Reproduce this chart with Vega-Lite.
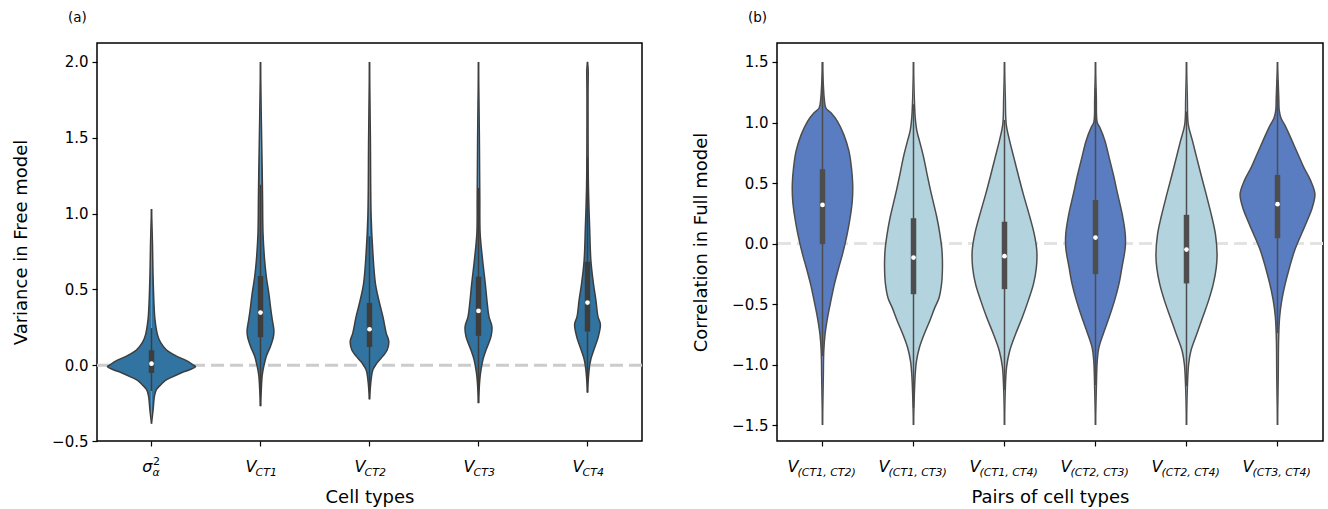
{
  "$schema": "https://vega.github.io/schema/vega-lite/v6.json",
  "background": "white",
  "padding": {"left": 11, "top": 9, "right": 5, "bottom": 5},
  "spacing": 135,
  "bounds": "flush",
  "config": {
    "font": "DejaVu Sans",
    "view": {"stroke": "black", "strokeWidth": 1.5},
    "axis": {"grid": false, "domain": false, "tickColor": "black", "tickWidth": 1.2, "tickSize": 5, "labelFontSize": 15, "labelColor": "black", "labelFont": "DejaVu Sans", "titleFont": "DejaVu Sans", "titleFontSize": 18, "titleFontWeight": "normal", "titleColor": "black", "labelPadding": 4},
    "title": {"font": "DejaVu Sans", "fontWeight": "normal", "color": "black"}
  },
  "datasets": {
    "violA": [
      {"c":"sigma","v":1.03,"w":0},{"c":"sigma","v":0.8,"w":0.009},{"c":"sigma","v":0.6,"w":0.014},{"c":"sigma","v":0.4,"w":0.023},{"c":"sigma","v":0.3,"w":0.032},{"c":"sigma","v":0.2,"w":0.055},{"c":"sigma","v":0.15,"w":0.083},{"c":"sigma","v":0.1,"w":0.138},{"c":"sigma","v":0.06,"w":0.229},{"c":"sigma","v":0.03,"w":0.321},{"c":"sigma","v":0.0,"w":0.385},{"c":"sigma","v":-0.01,"w":0.404},{"c":"sigma","v":-0.03,"w":0.349},{"c":"sigma","v":-0.05,"w":0.275},{"c":"sigma","v":-0.08,"w":0.183},{"c":"sigma","v":-0.1,"w":0.128},{"c":"sigma","v":-0.13,"w":0.083},{"c":"sigma","v":-0.16,"w":0.046},{"c":"sigma","v":-0.2,"w":0.028},{"c":"sigma","v":-0.3,"w":0.014},{"c":"sigma","v":-0.385,"w":0},
      {"c":"CT1","v":2.0,"w":0},{"c":"CT1","v":1.6,"w":0.008},{"c":"CT1","v":1.31,"w":0.015},{"c":"CT1","v":1.1,"w":0.019},{"c":"CT1","v":0.87,"w":0.023},{"c":"CT1","v":0.69,"w":0.038},{"c":"CT1","v":0.58,"w":0.054},{"c":"CT1","v":0.47,"w":0.077},{"c":"CT1","v":0.36,"w":0.096},{"c":"CT1","v":0.3,"w":0.108},{"c":"CT1","v":0.23,"w":0.123},{"c":"CT1","v":0.19,"w":0.119},{"c":"CT1","v":0.125,"w":0.092},{"c":"CT1","v":0.06,"w":0.054},{"c":"CT1","v":-0.005,"w":0.031},{"c":"CT1","v":-0.07,"w":0.015},{"c":"CT1","v":-0.15,"w":0.008},{"c":"CT1","v":-0.27,"w":0},
      {"c":"CT2","v":2.0,"w":0},{"c":"CT2","v":1.5,"w":0.008},{"c":"CT2","v":0.98,"w":0.015},{"c":"CT2","v":0.74,"w":0.031},{"c":"CT2","v":0.54,"w":0.054},{"c":"CT2","v":0.43,"w":0.085},{"c":"CT2","v":0.32,"w":0.123},{"c":"CT2","v":0.21,"w":0.154},{"c":"CT2","v":0.157,"w":0.177},{"c":"CT2","v":0.1,"w":0.162},{"c":"CT2","v":0.06,"w":0.123},{"c":"CT2","v":0.015,"w":0.069},{"c":"CT2","v":-0.03,"w":0.031},{"c":"CT2","v":-0.095,"w":0.015},{"c":"CT2","v":-0.225,"w":0},
      {"c":"CT3","v":2.0,"w":0},{"c":"CT3","v":1.5,"w":0.008},{"c":"CT3","v":1.1,"w":0.012},{"c":"CT3","v":0.87,"w":0.015},{"c":"CT3","v":0.69,"w":0.038},{"c":"CT3","v":0.54,"w":0.062},{"c":"CT3","v":0.43,"w":0.077},{"c":"CT3","v":0.32,"w":0.096},{"c":"CT3","v":0.255,"w":0.123},{"c":"CT3","v":0.19,"w":0.115},{"c":"CT3","v":0.1,"w":0.069},{"c":"CT3","v":0.04,"w":0.042},{"c":"CT3","v":-0.03,"w":0.023},{"c":"CT3","v":-0.095,"w":0.012},{"c":"CT3","v":-0.25,"w":0},
      {"c":"CT4","v":2.0,"w":0},{"c":"CT4","v":1.95,"w":0.006},{"c":"CT4","v":1.8,"w":0.005},{"c":"CT4","v":1.2,"w":0.008},{"c":"CT4","v":0.9,"w":0.02},{"c":"CT4","v":0.69,"w":0.031},{"c":"CT4","v":0.54,"w":0.054},{"c":"CT4","v":0.43,"w":0.077},{"c":"CT4","v":0.32,"w":0.096},{"c":"CT4","v":0.27,"w":0.118},{"c":"CT4","v":0.19,"w":0.1},{"c":"CT4","v":0.1,"w":0.058},{"c":"CT4","v":0.04,"w":0.031},{"c":"CT4","v":-0.03,"w":0.015},{"c":"CT4","v":-0.18,"w":0}
    ],
    "boxA": [
      {"c":"sigma","lo":-0.17,"q1":-0.051,"med":0.01,"q3":0.098,"hi":0.245},
      {"c":"CT1","lo":-0.27,"q1":0.185,"med":0.347,"q3":0.588,"hi":1.19},
      {"c":"CT2","lo":-0.225,"q1":0.12,"med":0.237,"q3":0.41,"hi":0.85},
      {"c":"CT3","lo":-0.25,"q1":0.194,"med":0.358,"q3":0.584,"hi":1.17},
      {"c":"CT4","lo":-0.18,"q1":0.222,"med":0.413,"q3":0.682,"hi":1.37}
    ],
    "labA": [
      {"c":"sigma","main":"σ","sub":"α","sup":"2"},
      {"c":"CT1","main":"V","sub":"CT1"},
      {"c":"CT2","main":"V","sub":"CT2"},
      {"c":"CT3","main":"V","sub":"CT3"},
      {"c":"CT4","main":"V","sub":"CT4"}
    ],
    "violB": [
      {"c":"V12","v":1.5,"w":0},{"c":"V12","v":1.2,"w":0.019},{"c":"V12","v":1.12,"w":0.037},{"c":"V12","v":1.08,"w":0.093},{"c":"V12","v":1.01,"w":0.164},{"c":"V12","v":0.9,"w":0.234},{"c":"V12","v":0.765,"w":0.29},{"c":"V12","v":0.627,"w":0.318},{"c":"V12","v":0.49,"w":0.332},{"c":"V12","v":0.35,"w":0.327},{"c":"V12","v":0.215,"w":0.304},{"c":"V12","v":0.077,"w":0.271},{"c":"V12","v":-0.088,"w":0.22},{"c":"V12","v":-0.2,"w":0.178},{"c":"V12","v":-0.336,"w":0.131},{"c":"V12","v":-0.47,"w":0.093},{"c":"V12","v":-0.61,"w":0.056},{"c":"V12","v":-0.75,"w":0.028},{"c":"V12","v":-0.89,"w":0.014},{"c":"V12","v":-1.1,"w":0.009},{"c":"V12","v":-1.5,"w":0},
      {"c":"V13","v":1.5,"w":0},{"c":"V13","v":1.2,"w":0.009},{"c":"V13","v":1.04,"w":0.019},{"c":"V13","v":0.93,"w":0.037},{"c":"V13","v":0.85,"w":0.065},{"c":"V13","v":0.71,"w":0.112},{"c":"V13","v":0.57,"w":0.15},{"c":"V13","v":0.41,"w":0.196},{"c":"V13","v":0.215,"w":0.257},{"c":"V13","v":0.077,"w":0.29},{"c":"V13","v":-0.06,"w":0.313},{"c":"V13","v":-0.2,"w":0.318},{"c":"V13","v":-0.336,"w":0.308},{"c":"V13","v":-0.45,"w":0.28},{"c":"V13","v":-0.53,"w":0.234},{"c":"V13","v":-0.64,"w":0.178},{"c":"V13","v":-0.75,"w":0.117},{"c":"V13","v":-0.86,"w":0.065},{"c":"V13","v":-0.97,"w":0.033},{"c":"V13","v":-1.08,"w":0.019},{"c":"V13","v":-1.25,"w":0.009},{"c":"V13","v":-1.5,"w":0},
      {"c":"V14","v":1.5,"w":0},{"c":"V14","v":1.2,"w":0.009},{"c":"V14","v":0.985,"w":0.019},{"c":"V14","v":0.85,"w":0.056},{"c":"V14","v":0.71,"w":0.103},{"c":"V14","v":0.57,"w":0.15},{"c":"V14","v":0.41,"w":0.206},{"c":"V14","v":0.215,"w":0.28},{"c":"V14","v":0.077,"w":0.327},{"c":"V14","v":-0.06,"w":0.355},{"c":"V14","v":-0.2,"w":0.35},{"c":"V14","v":-0.336,"w":0.318},{"c":"V14","v":-0.47,"w":0.262},{"c":"V14","v":-0.61,"w":0.196},{"c":"V14","v":-0.75,"w":0.121},{"c":"V14","v":-0.89,"w":0.056},{"c":"V14","v":-1.02,"w":0.023},{"c":"V14","v":-1.2,"w":0.009},{"c":"V14","v":-1.5,"w":0},
      {"c":"V23","v":1.5,"w":0},{"c":"V23","v":1.2,"w":0.009},{"c":"V23","v":1.0,"w":0.019},{"c":"V23","v":0.96,"w":0.047},{"c":"V23","v":0.85,"w":0.103},{"c":"V23","v":0.71,"w":0.15},{"c":"V23","v":0.57,"w":0.196},{"c":"V23","v":0.41,"w":0.243},{"c":"V23","v":0.24,"w":0.294},{"c":"V23","v":0.077,"w":0.327},{"c":"V23","v":-0.033,"w":0.327},{"c":"V23","v":-0.2,"w":0.29},{"c":"V23","v":-0.336,"w":0.257},{"c":"V23","v":-0.47,"w":0.21},{"c":"V23","v":-0.61,"w":0.15},{"c":"V23","v":-0.75,"w":0.084},{"c":"V23","v":-0.86,"w":0.037},{"c":"V23","v":-0.97,"w":0.019},{"c":"V23","v":-1.2,"w":0.009},{"c":"V23","v":-1.5,"w":0},
      {"c":"V24","v":1.5,"w":0},{"c":"V24","v":1.2,"w":0.009},{"c":"V24","v":0.985,"w":0.019},{"c":"V24","v":0.85,"w":0.065},{"c":"V24","v":0.71,"w":0.112},{"c":"V24","v":0.57,"w":0.159},{"c":"V24","v":0.41,"w":0.215},{"c":"V24","v":0.215,"w":0.28},{"c":"V24","v":0.077,"w":0.318},{"c":"V24","v":-0.088,"w":0.336},{"c":"V24","v":-0.2,"w":0.327},{"c":"V24","v":-0.336,"w":0.294},{"c":"V24","v":-0.47,"w":0.243},{"c":"V24","v":-0.61,"w":0.178},{"c":"V24","v":-0.75,"w":0.112},{"c":"V24","v":-0.89,"w":0.047},{"c":"V24","v":-1.0,"w":0.023},{"c":"V24","v":-1.2,"w":0.009},{"c":"V24","v":-1.5,"w":0},
      {"c":"V34","v":1.5,"w":0},{"c":"V34","v":1.2,"w":0.014},{"c":"V34","v":1.1,"w":0.019},{"c":"V34","v":1.04,"w":0.037},{"c":"V34","v":0.96,"w":0.093},{"c":"V34","v":0.85,"w":0.159},{"c":"V34","v":0.74,"w":0.224},{"c":"V34","v":0.627,"w":0.29},{"c":"V34","v":0.52,"w":0.364},{"c":"V34","v":0.41,"w":0.411},{"c":"V34","v":0.3,"w":0.383},{"c":"V34","v":0.19,"w":0.327},{"c":"V34","v":0.077,"w":0.262},{"c":"V34","v":-0.06,"w":0.187},{"c":"V34","v":-0.2,"w":0.131},{"c":"V34","v":-0.336,"w":0.084},{"c":"V34","v":-0.47,"w":0.047},{"c":"V34","v":-0.61,"w":0.023},{"c":"V34","v":-0.8,"w":0.012},{"c":"V34","v":-1.1,"w":0.008},{"c":"V34","v":-1.5,"w":0}
    ],
    "boxB": [
      {"c":"V12","lo":-0.93,"q1":-0.005,"med":0.319,"q3":0.614,"hi":1.5},
      {"c":"V13","lo":-1.36,"q1":-0.419,"med":-0.116,"q3":0.209,"hi":1.15},
      {"c":"V14","lo":-1.21,"q1":-0.377,"med":-0.105,"q3":0.18,"hi":1.02},
      {"c":"V23","lo":-1.17,"q1":-0.253,"med":0.049,"q3":0.36,"hi":1.28},
      {"c":"V24","lo":-1.18,"q1":-0.33,"med":-0.05,"q3":0.237,"hi":1.09},
      {"c":"V34","lo":-0.74,"q1":0.044,"med":0.325,"q3":0.567,"hi":1.35}
    ],
    "labB": [
      {"c":"V12","main":"V","sub":"(CT1, CT2)"},
      {"c":"V13","main":"V","sub":"(CT1, CT3)"},
      {"c":"V14","main":"V","sub":"(CT1, CT4)"},
      {"c":"V23","main":"V","sub":"(CT2, CT3)"},
      {"c":"V24","main":"V","sub":"(CT2, CT4)"},
      {"c":"V34","main":"V","sub":"(CT3, CT4)"}
    ]
  },
  "hconcat": [
    {
      "width": 545,
      "height": 398,
      "title": {"text": "(a)", "anchor": "start", "frame": "group", "dx": -29, "fontSize": 13.5, "offset": 19},
      "resolve": {"scale": {"xOffset": "independent"}},
      "layer": [
        {
          "data": {"values": [{"ref": 0}]},
          "mark": {"type": "rule", "color": "#cccccc", "strokeWidth": 3, "strokeDash": [13, 6]},
          "encoding": {"y": {"field": "ref", "type": "quantitative", "scale": {"domain": [-0.5, 2.125], "nice": false, "zero": false}, "axis": {"title": "Variance in Free model", "values": [-0.5, 0, 0.5, 1, 1.5, 2], "format": ".1f", "titlePadding": 21}}}
        },
        {
          "data": {"name": "violA"},
          "mark": {"type": "line", "fill": "#3274a1", "stroke": "#3d3d3d", "strokeWidth": 1.5, "interpolate": "catmull-rom"},
          "encoding": {
            "x": {"field": "c", "type": "nominal", "scale": {"domain": ["sigma", "CT1", "CT2", "CT3", "CT4"], "paddingInner": 0, "paddingOuter": 0}, "axis": {"labels": false, "title": "Cell types", "titlePadding": 42}},
            "xOffset": {"field": "w", "type": "quantitative", "scale": {"domain": [-0.5, 0.5]}},
            "y": {"field": "v", "type": "quantitative", "axis": {"title": "Variance in Free model", "values": [-0.5, 0, 0.5, 1, 1.5, 2], "format": ".1f", "titlePadding": 21}},
            "order": {"field": "v", "sort": "descending"},
            "detail": {"field": "c"}
          }
        },
        {
          "data": {"name": "violA"},
          "mark": {"type": "line", "fill": "#3274a1", "stroke": "#3d3d3d", "strokeWidth": 1.5, "interpolate": "catmull-rom"},
          "encoding": {
            "x": {"field": "c", "type": "nominal", "axis": {"labels": false, "title": "Cell types", "titlePadding": 42}},
            "xOffset": {"field": "w", "type": "quantitative", "scale": {"domain": [-0.5, 0.5], "reverse": true}},
            "y": {"field": "v", "type": "quantitative", "axis": {"title": "Variance in Free model", "values": [-0.5, 0, 0.5, 1, 1.5, 2], "format": ".1f", "titlePadding": 21}},
            "order": {"field": "v", "sort": "descending"},
            "detail": {"field": "c"}
          }
        },
        {
          "data": {"name": "boxA"},
          "mark": {"type": "rule", "color": "#3d3d3d", "strokeWidth": 1.5},
          "encoding": {"x": {"field": "c", "type": "nominal", "axis": {"labels": false, "title": "Cell types", "titlePadding": 42}}, "y": {"field": "lo", "type": "quantitative", "axis": {"title": "Variance in Free model", "values": [-0.5, 0, 0.5, 1, 1.5, 2], "format": ".1f", "titlePadding": 21}}, "y2": {"field": "hi"}}
        },
        {
          "data": {"name": "boxA"},
          "mark": {"type": "rule", "color": "#3d3d3d", "strokeWidth": 5.5},
          "encoding": {"x": {"field": "c", "type": "nominal", "axis": {"labels": false, "title": "Cell types", "titlePadding": 42}}, "y": {"field": "q1", "type": "quantitative", "axis": {"title": "Variance in Free model", "values": [-0.5, 0, 0.5, 1, 1.5, 2], "format": ".1f", "titlePadding": 21}}, "y2": {"field": "q3"}}
        },
        {
          "data": {"name": "boxA"},
          "mark": {"type": "point", "filled": true, "color": "white", "opacity": 1, "size": 22},
          "encoding": {"x": {"field": "c", "type": "nominal", "axis": {"labels": false, "title": "Cell types", "titlePadding": 42}}, "y": {"field": "med", "type": "quantitative", "axis": {"title": "Variance in Free model", "values": [-0.5, 0, 0.5, 1, 1.5, 2], "format": ".1f", "titlePadding": 21}}}
        },
        {
          "data": {"name": "labA"},
          "transform": [{"filter": "datum.c != 'sigma'"}],
          "mark": {"type": "text", "align": "right", "baseline": "alphabetic", "dx": -4, "dy": 31, "fontSize": 16, "fontStyle": "italic", "color": "black"},
          "encoding": {"x": {"field": "c", "type": "nominal", "axis": {"labels": false, "title": "Cell types", "titlePadding": 42}}, "y": {"datum": -0.5, "type": "quantitative", "axis": {"title": "Variance in Free model", "values": [-0.5, 0, 0.5, 1, 1.5, 2], "format": ".1f", "titlePadding": 21}}, "text": {"field": "main"}}
        },
        {
          "data": {"name": "labA"},
          "transform": [{"filter": "datum.c != 'sigma'"}],
          "mark": {"type": "text", "align": "left", "baseline": "alphabetic", "dx": -5, "dy": 35, "fontSize": 11, "fontStyle": "italic", "color": "black"},
          "encoding": {"x": {"field": "c", "type": "nominal", "axis": {"labels": false, "title": "Cell types", "titlePadding": 42}}, "y": {"datum": -0.5, "type": "quantitative", "axis": {"title": "Variance in Free model", "values": [-0.5, 0, 0.5, 1, 1.5, 2], "format": ".1f", "titlePadding": 21}}, "text": {"field": "sub"}}
        },
        {
          "data": {"name": "labA"},
          "transform": [{"filter": "datum.c == 'sigma'"}],
          "mark": {"type": "text", "align": "right", "baseline": "alphabetic", "dx": 1, "dy": 31, "fontSize": 16, "fontStyle": "italic", "color": "black"},
          "encoding": {"x": {"field": "c", "type": "nominal", "axis": {"labels": false, "title": "Cell types", "titlePadding": 42}}, "y": {"datum": -0.5, "type": "quantitative", "axis": {"title": "Variance in Free model", "values": [-0.5, 0, 0.5, 1, 1.5, 2], "format": ".1f", "titlePadding": 21}}, "text": {"field": "main"}}
        },
        {
          "data": {"name": "labA"},
          "transform": [{"filter": "datum.c == 'sigma'"}],
          "mark": {"type": "text", "align": "left", "baseline": "alphabetic", "dx": 1.5, "dy": 24, "fontSize": 11, "color": "black"},
          "encoding": {"x": {"field": "c", "type": "nominal", "axis": {"labels": false, "title": "Cell types", "titlePadding": 42}}, "y": {"datum": -0.5, "type": "quantitative", "axis": {"title": "Variance in Free model", "values": [-0.5, 0, 0.5, 1, 1.5, 2], "format": ".1f", "titlePadding": 21}}, "text": {"field": "sup"}}
        },
        {
          "data": {"name": "labA"},
          "transform": [{"filter": "datum.c == 'sigma'"}],
          "mark": {"type": "text", "align": "left", "baseline": "alphabetic", "dx": 1, "dy": 35, "fontSize": 11, "fontStyle": "italic", "color": "black"},
          "encoding": {"x": {"field": "c", "type": "nominal", "axis": {"labels": false, "title": "Cell types", "titlePadding": 42}}, "y": {"datum": -0.5, "type": "quantitative", "axis": {"title": "Variance in Free model", "values": [-0.5, 0, 0.5, 1, 1.5, 2], "format": ".1f", "titlePadding": 21}}, "text": {"field": "sub"}}
        }
      ]
    },
    {
      "width": 546,
      "height": 398,
      "title": {"text": "(b)", "anchor": "start", "frame": "group", "dx": -29, "fontSize": 13.5, "offset": 19},
      "resolve": {"scale": {"xOffset": "independent"}},
      "layer": [
        {
          "data": {"values": [{"ref": 0}]},
          "mark": {"type": "rule", "color": "#e3e3e3", "strokeWidth": 3, "strokeDash": [13, 6]},
          "encoding": {"y": {"field": "ref", "type": "quantitative", "scale": {"domain": [-1.632, 1.657], "nice": false, "zero": false}, "axis": {"title": "Correlation in Full model", "values": [-1.5, -1, -0.5, 0, 0.5, 1, 1.5], "format": ".1f", "titlePadding": 21}}}
        },
        {
          "data": {"name": "violB"},
          "mark": {"type": "line", "stroke": "#4d4d4d", "strokeWidth": 1.5, "interpolate": "catmull-rom"},
          "encoding": {
            "x": {"field": "c", "type": "nominal", "scale": {"domain": ["V12", "V13", "V14", "V23", "V24", "V34"], "paddingInner": 0, "paddingOuter": 0}, "axis": {"labels": false, "title": "Pairs of cell types", "titlePadding": 42}},
            "xOffset": {"field": "w", "type": "quantitative", "scale": {"domain": [-0.5, 0.5]}},
            "y": {"field": "v", "type": "quantitative", "axis": {"title": "Correlation in Full model", "values": [-1.5, -1, -0.5, 0, 0.5, 1, 1.5], "format": ".1f", "titlePadding": 21}},
            "fill": {"field": "c", "type": "nominal", "scale": {"domain": ["V12", "V13", "V14", "V23", "V24", "V34"], "range": ["#5a7dc2", "#b3d4df", "#b3d4df", "#5a7dc2", "#b3d4df", "#5a7dc2"]}, "legend": null},
            "order": {"field": "v", "sort": "descending"},
            "detail": {"field": "c"}
          }
        },
        {
          "data": {"name": "violB"},
          "mark": {"type": "line", "stroke": "#4d4d4d", "strokeWidth": 1.5, "interpolate": "catmull-rom"},
          "encoding": {
            "x": {"field": "c", "type": "nominal", "axis": {"labels": false, "title": "Pairs of cell types", "titlePadding": 42}},
            "xOffset": {"field": "w", "type": "quantitative", "scale": {"domain": [-0.5, 0.5], "reverse": true}},
            "y": {"field": "v", "type": "quantitative", "axis": {"title": "Correlation in Full model", "values": [-1.5, -1, -0.5, 0, 0.5, 1, 1.5], "format": ".1f", "titlePadding": 21}},
            "fill": {"field": "c", "type": "nominal", "legend": null},
            "order": {"field": "v", "sort": "descending"},
            "detail": {"field": "c"}
          }
        },
        {
          "data": {"name": "boxB"},
          "mark": {"type": "rule", "color": "#4d4d4d", "strokeWidth": 1.5},
          "encoding": {"x": {"field": "c", "type": "nominal", "axis": {"labels": false, "title": "Pairs of cell types", "titlePadding": 42}}, "y": {"field": "lo", "type": "quantitative", "axis": {"title": "Correlation in Full model", "values": [-1.5, -1, -0.5, 0, 0.5, 1, 1.5], "format": ".1f", "titlePadding": 21}}, "y2": {"field": "hi"}}
        },
        {
          "data": {"name": "boxB"},
          "mark": {"type": "rule", "color": "#4d4d4d", "strokeWidth": 5.5},
          "encoding": {"x": {"field": "c", "type": "nominal", "axis": {"labels": false, "title": "Pairs of cell types", "titlePadding": 42}}, "y": {"field": "q1", "type": "quantitative", "axis": {"title": "Correlation in Full model", "values": [-1.5, -1, -0.5, 0, 0.5, 1, 1.5], "format": ".1f", "titlePadding": 21}}, "y2": {"field": "q3"}}
        },
        {
          "data": {"name": "boxB"},
          "mark": {"type": "point", "filled": true, "color": "white", "opacity": 1, "size": 22},
          "encoding": {"x": {"field": "c", "type": "nominal", "axis": {"labels": false, "title": "Pairs of cell types", "titlePadding": 42}}, "y": {"field": "med", "type": "quantitative", "axis": {"title": "Correlation in Full model", "values": [-1.5, -1, -0.5, 0, 0.5, 1, 1.5], "format": ".1f", "titlePadding": 21}}}
        },
        {
          "data": {"name": "labB"},
          "mark": {"type": "text", "align": "right", "baseline": "alphabetic", "dx": -24, "dy": 31, "fontSize": 16, "fontStyle": "italic", "color": "black"},
          "encoding": {"x": {"field": "c", "type": "nominal", "axis": {"labels": false, "title": "Pairs of cell types", "titlePadding": 42}}, "y": {"datum": -1.632, "type": "quantitative", "axis": {"title": "Correlation in Full model", "values": [-1.5, -1, -0.5, 0, 0.5, 1, 1.5], "format": ".1f", "titlePadding": 21}}, "text": {"field": "main"}}
        },
        {
          "data": {"name": "labB"},
          "mark": {"type": "text", "align": "left", "baseline": "alphabetic", "dx": -25, "dy": 35, "fontSize": 11, "fontStyle": "italic", "color": "black"},
          "encoding": {"x": {"field": "c", "type": "nominal", "axis": {"labels": false, "title": "Pairs of cell types", "titlePadding": 42}}, "y": {"datum": -1.632, "type": "quantitative", "axis": {"title": "Correlation in Full model", "values": [-1.5, -1, -0.5, 0, 0.5, 1, 1.5], "format": ".1f", "titlePadding": 21}}, "text": {"field": "sub"}}
        }
      ]
    }
  ]
}
